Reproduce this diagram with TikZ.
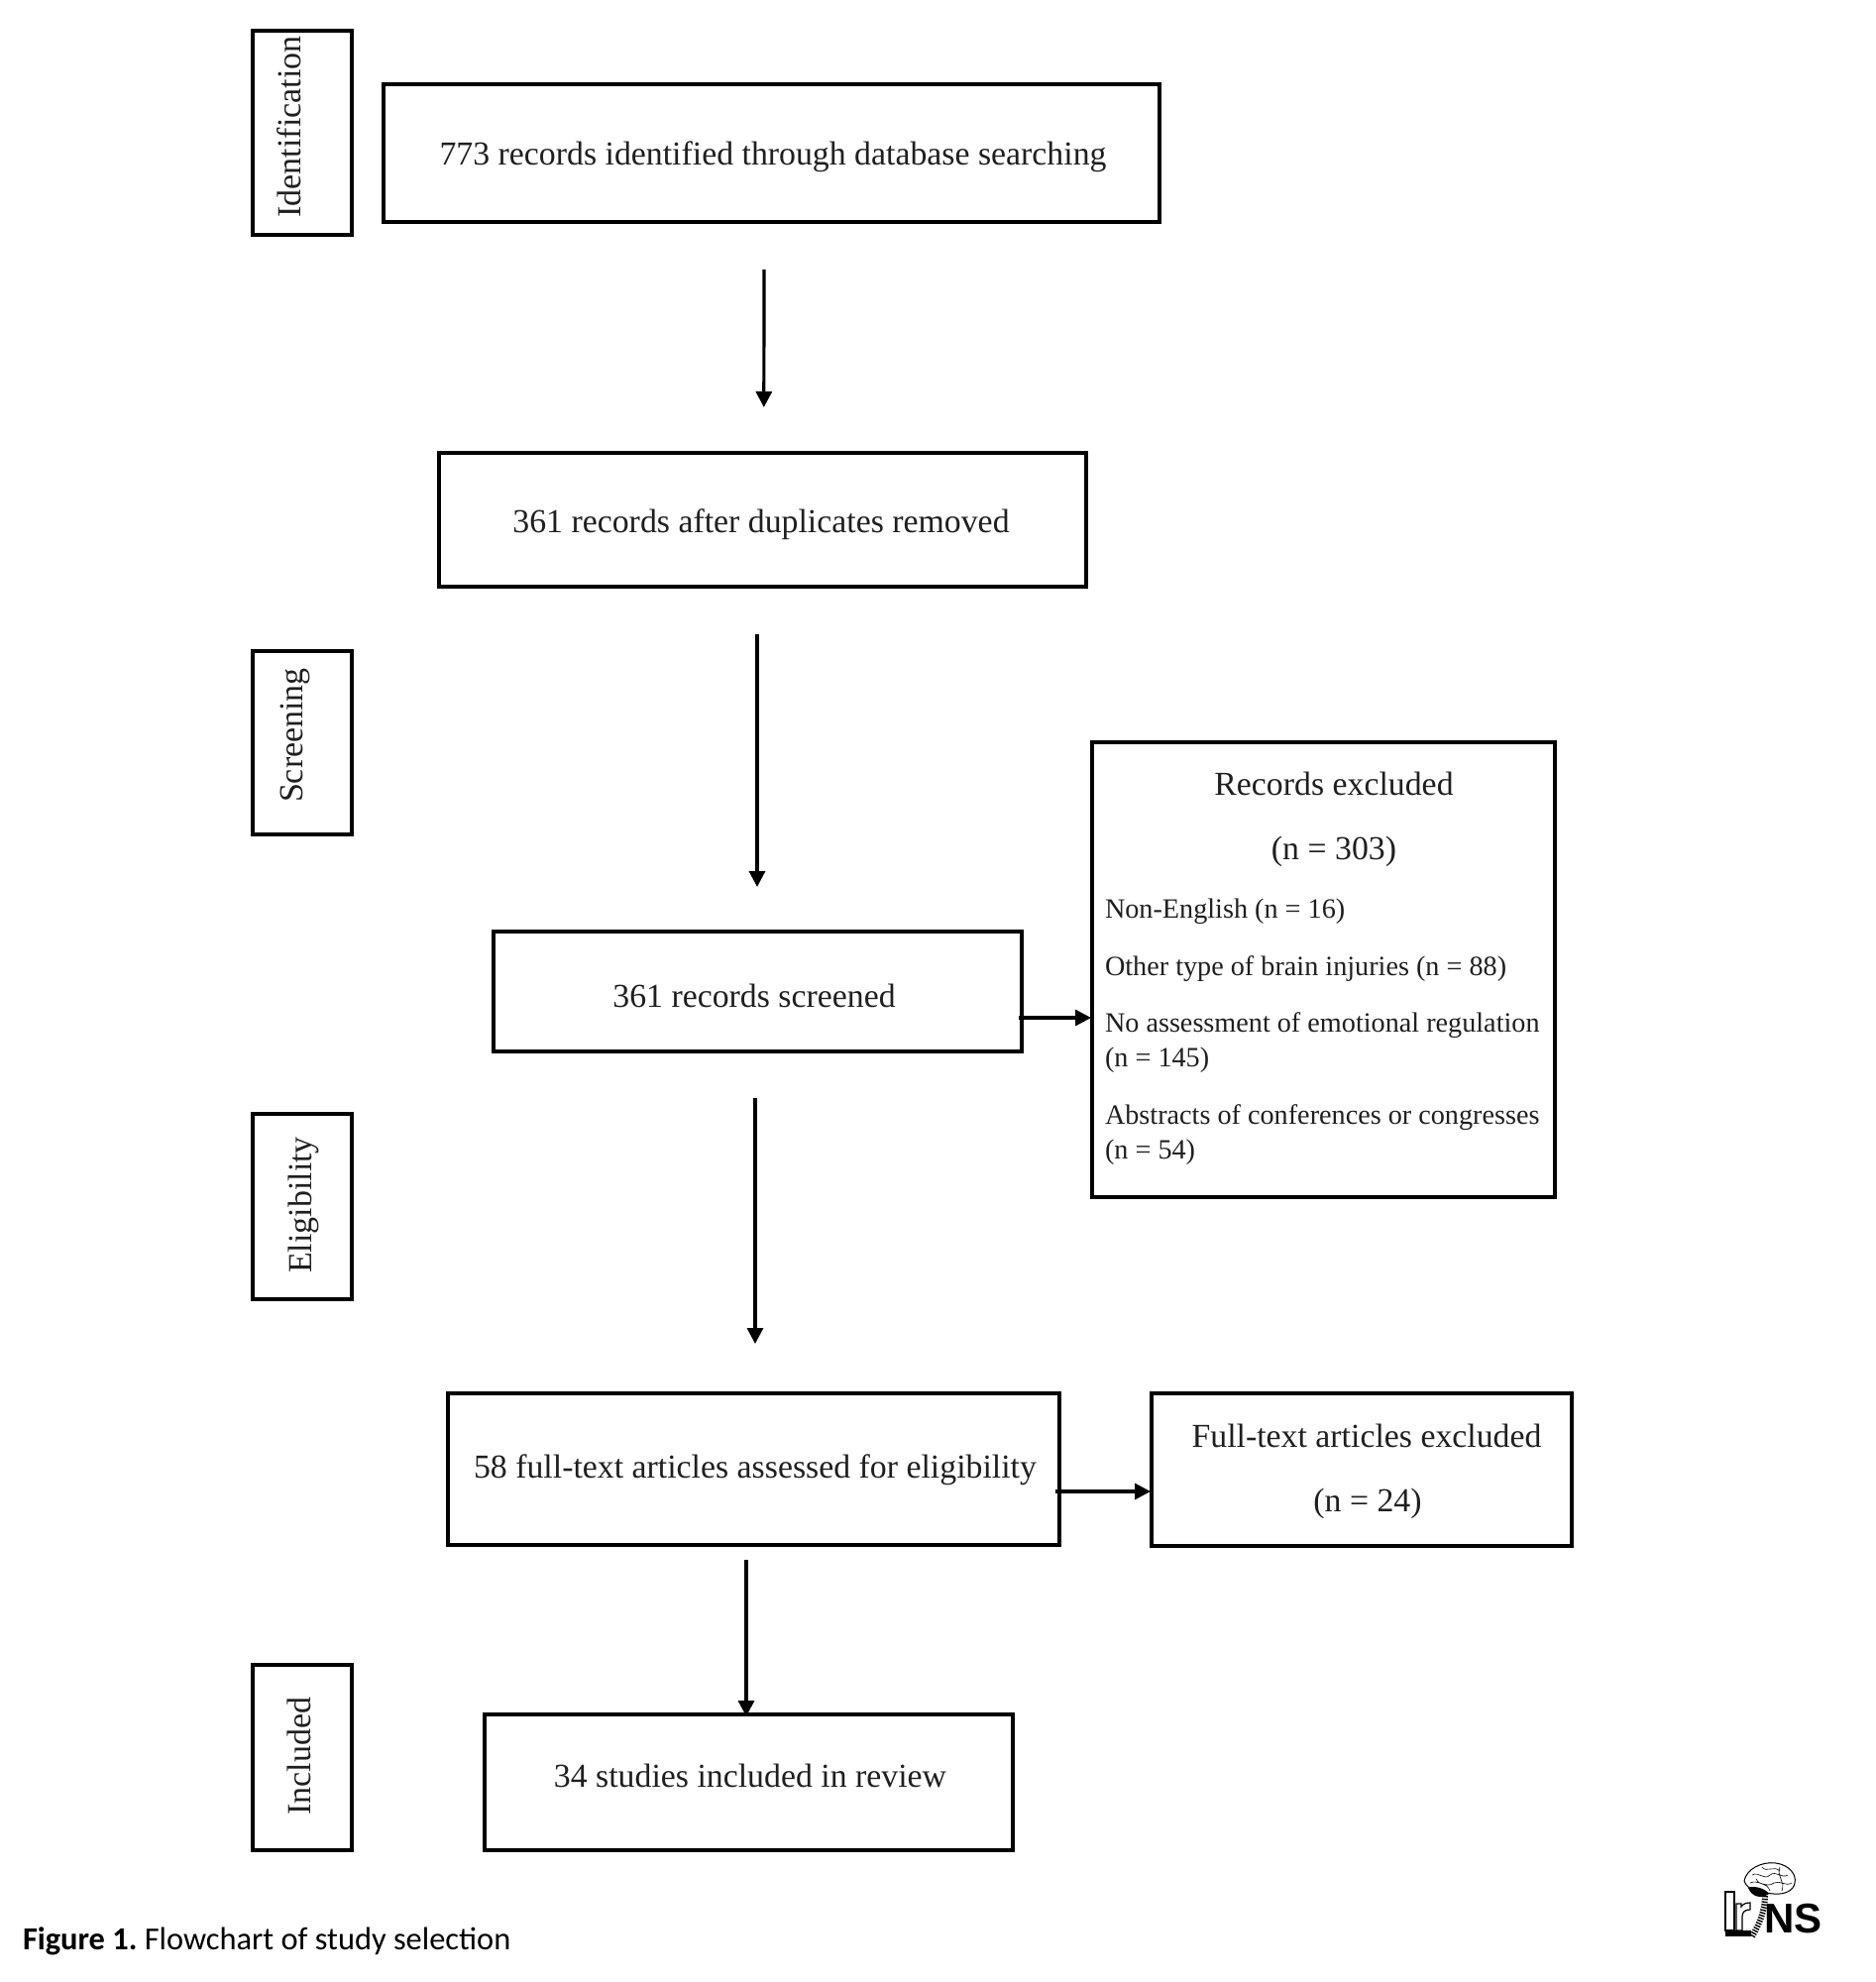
\documentclass[tikz,border=0pt]{standalone}
\usepackage{fontspec}
\setmainfont{Liberation Serif}
\newfontfamily\capfont{Carlito}
\newfontfamily\logofont{Liberation Sans}
\usetikzlibrary{arrows.meta}
\newcommand{\bx}[6]{%
  \pgfmathsetmacro{\bxw}{(#4-#2)/2}\pgfmathsetmacro{\bxh}{(#5-#3)/2}%
  \pgfmathsetmacro{\bxcx}{(#4+#2)/2}\pgfmathsetmacro{\bxcy}{(#5+#3)/2}%
  \node[#6,minimum width=\bxw pt,minimum height=\bxh pt] (#1) at (\bxcx,\bxcy) {};}
\tikzset{
  flowbox/.style={draw=black,line width=2pt,inner sep=0pt,outer sep=0pt},
  sidebox/.style={draw=black,line width=1.7pt,inner sep=0pt,outer sep=0pt},
  txt/.style={inner sep=0pt,outer sep=0pt,font=\fontsize{16.9}{19}\selectfont,text=black!88},
  small/.style={inner sep=0pt,outer sep=0pt,anchor=base west,font=\fontsize{14.1}{16}\selectfont,text=black!88},
  side/.style={inner sep=0pt,outer sep=0pt,rotate=90,font=\fontsize{17}{19}\selectfont,text=black!88},
  arr/.style={line width=1.6pt,-{Triangle[length=8pt,width=8pt]}},
}
\begin{document}
\begin{tikzpicture}[x=0.5pt,y=-0.5pt]
\useasboundingbox (0,0) rectangle (1893,2000);
% side boxes
\bx{sI}{255}{31}{355}{237}{sidebox}
\bx{sS}{255}{657}{355}{842}{sidebox}
\bx{sE}{255}{1124}{355}{1311}{sidebox}
\bx{sN}{255}{1680}{355}{1867}{sidebox}
\node[side] (tI) at (292,128) {Identification};
\node[side] (tS) at (298,742) {Screening};
\node[side] (tE) at (306,1216) {Eligibility};
\node[side] (tN) at (302,1772) {Included};
% flow boxes
\bx{A}{387}{85}{1170}{224}{flowbox}
\bx{B}{443}{457}{1096}{592}{flowbox}
\bx{C}{498}{940}{1031}{1061}{flowbox}
\bx{X}{1102}{749}{1569}{1208}{flowbox}
\bx{D}{452}{1406}{1069}{1559}{flowbox}
\bx{Y}{1162}{1406}{1586}{1560}{flowbox}
\bx{E}{489}{1730}{1022}{1867}{flowbox}
\node[txt] (tA) at (780,158) {773 records identified through database searching};
\node[txt] (tB) at (768,529) {361 records after duplicates removed};
\node[txt] (tC) at (761,1005) {361 records screened};
\node[txt] (tD) at (762,1483) {58 full-text articles assessed for eligibility};
\node[txt] (tE2) at (757,1792) {34 studies included in review};
\node[txt] (tX1) at (1346,791) {Records excluded};
\node[txt] (tX2) at (1346,859) {(n = 303)};
\node[small] (x3) at (1115,926) {Non-English (n = 16)};
\node[small] (x4) at (1115,984) {Other type of brain injuries (n = 88)};
\node[small] (x5) at (1115,1041) {No assessment of emotional regulation};
\node[small] (x6) at (1115,1076) {(n = 145)};
\node[small] (x7) at (1115,1134) {Abstracts of conferences or congresses};
\node[small] (x8) at (1115,1169) {(n = 54)};
\node[txt] (tY1) at (1379,1449) {Full-text articles excluded};
\node[txt] (tY2) at (1380,1517) {(n = 24)};
% connectors
\draw[arr] ([xshift=-3.75pt,yshift=-24pt]A.south) -- ([xshift=0.65pt,yshift=23pt]B.north);
\draw[arr] ([xshift=-2.75pt,yshift=-24pt]B.south) -- ([xshift=-0.25pt,yshift=22.5pt]C.north);
\draw[arr] ([xshift=-1.25pt,yshift=-23.5pt]C.south) -- ([xshift=0.75pt,yshift=25pt]D.north);
\draw[arr] ([xshift=-3.75pt,yshift=-7.5pt]D.south) -- ([xshift=-1.25pt,yshift=-1pt]E.north);
\draw[arr] ([xshift=-1.5pt,yshift=-13.25pt]C.east) -- ([xshift=-0.5pt,yshift=-24.25pt]X.west);
\draw[arr] ([xshift=-2pt,yshift=-11.25pt]D.east) -- ([xshift=-0.5pt,yshift=-11pt]Y.west);
% caption
\node[inner sep=0pt,outer sep=0pt,anchor=base west,font=\capfont\fontsize{16.2}{19}\selectfont] (cap) at (23,1967) {\textbf{Figure 1.}\hspace{-1.2pt} Flowchart of study selection};
% logo
\draw[black,line width=0.5pt,fill=white,line join=round] (1760,1898) .. controls (1762,1886) and (1778,1878) .. (1792,1880) .. controls (1806,1882) and (1813,1892) .. (1811,1900) .. controls (1810,1908) and (1800,1912) .. (1790,1911) .. controls (1778,1910) and (1763,1908) .. (1760,1898) -- cycle;
\draw[black,line width=0.3pt] (1768,1892) .. controls (1775,1888) and (1780,1898) .. (1786,1892) .. controls (1792,1887) and (1798,1896) .. (1804,1892) (1766,1900) .. controls (1774,1896) and (1782,1906) .. (1790,1900) .. controls (1796,1897) and (1802,1904) .. (1808,1900) (1778,1884) .. controls (1782,1890) and (1790,1882) .. (1796,1888) (1772,1896) .. controls (1776,1904) and (1782,1898) .. (1786,1908) (1796,1884) .. controls (1792,1894) and (1802,1898) .. (1798,1908);
\fill[black] (1764,1905) .. controls (1770,1902) and (1782,1906) .. (1785,1911) .. controls (1778,1916) and (1768,1915) .. (1764,1905) -- cycle;
\draw[black,line width=3pt,dash pattern=on 0.7pt off 0.7pt] (1781,1913) .. controls (1781,1928) and (1775,1942) .. (1768,1954);
\draw[black,line width=0.6pt,fill=white] (1741,1909) rectangle (1750,1948);
\draw[black,line width=0.6pt,fill=white] (1752,1921) -- (1757,1921) -- (1757,1924) .. controls (1759,1921) and (1762,1920) .. (1766,1920) -- (1766,1927) .. controls (1761,1927) and (1758,1929) .. (1758,1934) -- (1758,1948) -- (1752,1948) -- cycle;
\fill[black] (1741,1948) rectangle (1767,1954);
\node[inner sep=0pt,outer sep=0pt,anchor=base west,font=\logofont\bfseries\fontsize{21}{22}\selectfont] (logo) at (1780,1950) {NS};
\end{tikzpicture}
\end{document}
